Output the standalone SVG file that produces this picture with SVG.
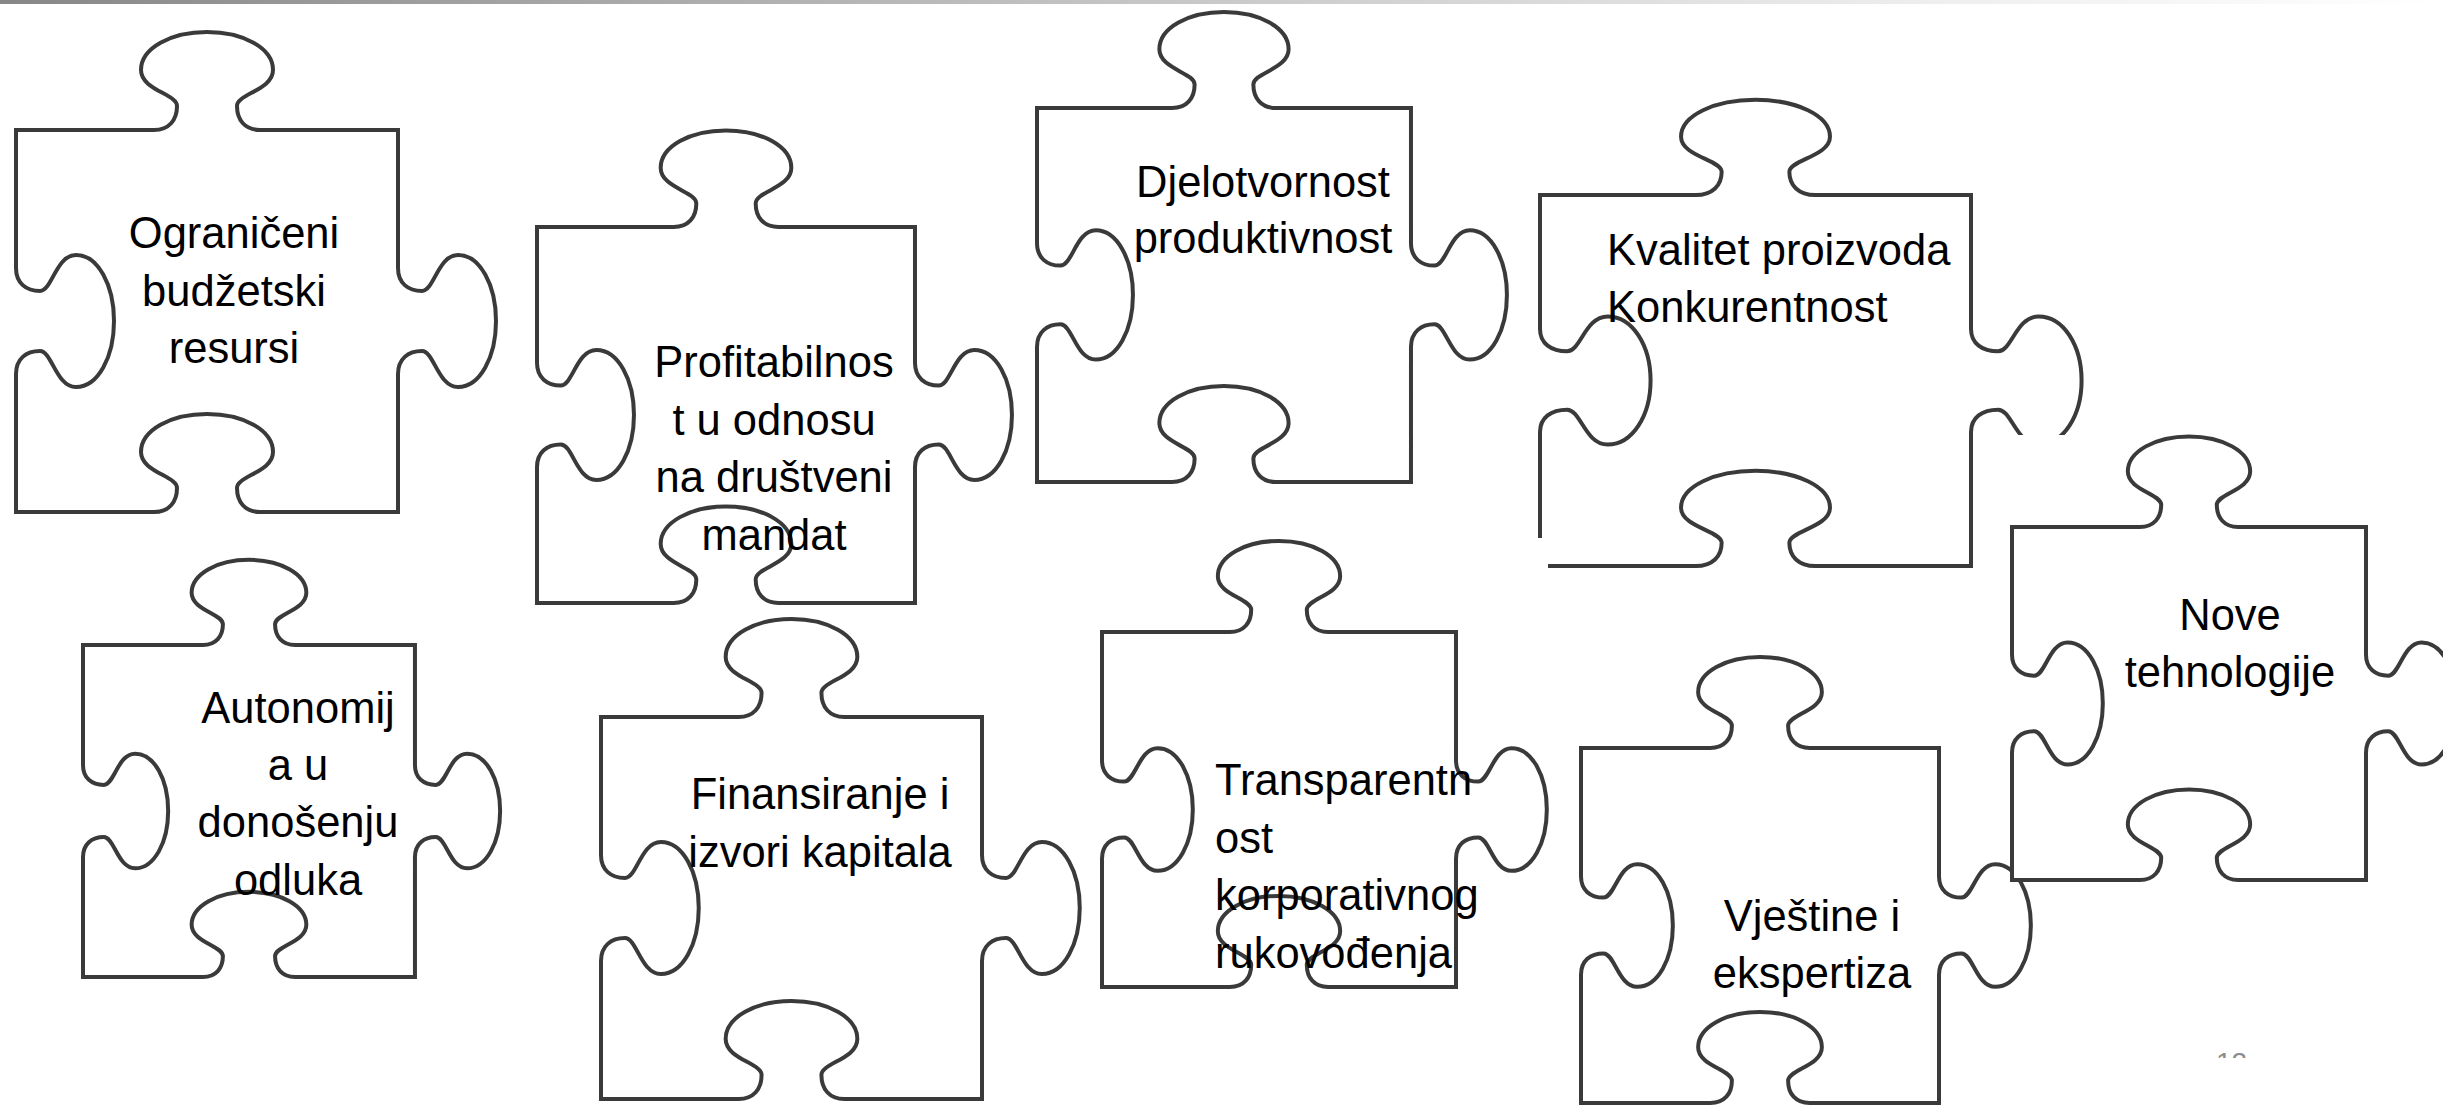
<svg xmlns="http://www.w3.org/2000/svg" xmlns:xlink="http://www.w3.org/1999/xlink" width="2443" height="1106" viewBox="0 0 2443 1106">
<style>
.pc{fill:#fff;stroke:#3a3a3a;stroke-width:4;vector-effect:non-scaling-stroke;stroke-linejoin:miter}
.bg{fill:#fff;stroke:none}
.t{font-family:"Liberation Sans",Arial,sans-serif;font-size:43.5px;fill:#000}
.m{text-anchor:middle}
.pn{font-family:"Liberation Sans",Arial,sans-serif;font-size:28px;fill:#8c8c8c}
</style>
<defs>
<linearGradient id="bar" x1="0" y1="0" x2="1" y2="0">
<stop offset="0" stop-color="#878787"/>
<stop offset="0.45" stop-color="#c3c3c3"/>
<stop offset="0.8" stop-color="#efefef"/>
<stop offset="1" stop-color="#ffffff"/>
</linearGradient>
<clipPath id="pnclip"><rect x="2150" y="1000" width="200" height="58"/></clipPath>
<path id="piece" class="pc" d="M0,0 L138,0 C153,0 161,-10 161,-24 C161,-36 125,-40 125,-60 C125,-82 155,-98 191,-98 C227,-98 257,-82 257,-60 C257,-40 221,-36 221,-24 C221,-10 229,0 244,0 L382,0 L382,138 C382,153 392,161 406,161 C418,161 422,125 442,125 C464,125 480,155 480,191 C480,227 464,257 442,257 C422,257 418,221 406,221 C392,221 382,229 382,244 L382,382 L244,382 C229,382 221,372 221,358 C221,346 257,342 257,322 C257,300 227,284 191,284 C155,284 125,300 125,322 C125,342 161,346 161,358 C161,372 153,382 138,382 L0,382 L0,244 C0,229 10,221 24,221 C36,221 40,257 60,257 C82,257 98,227 98,191 C98,155 82,125 60,125 C40,125 36,161 24,161 C10,161 0,153 0,138 Z"/>
</defs>
<rect x="0" y="0" width="2443" height="1106" fill="#fff"/>
<rect x="0" y="0" width="2443" height="4" fill="url(#bar)"/>
<g id="connectors"></g>
<g id="n1">
<use xlink:href="#piece" href="#piece" transform="translate(16,130) scale(1,1)"/>
<text class="t m" x="234" y="248">Ograničeni</text>
<text class="t m" x="234" y="306">budžetski</text>
<text class="t m" x="234" y="363">resursi</text>
</g>
<g id="n2">
<use xlink:href="#piece" href="#piece" transform="translate(537,227) scale(0.9895,0.9843)"/>
<text class="t m" x="774" y="377">Profitabilnos</text>
<text class="t m" x="774" y="435">t u odnosu</text>
<text class="t m" x="774" y="492">na društveni</text>
<text class="t m" x="774" y="550">mandat</text>
</g>
<g id="n3">
<use xlink:href="#piece" href="#piece" transform="translate(1037,108) scale(0.979,0.979)"/>
<text class="t m" x="1263" y="197">Djelotvornost</text>
<text class="t m" x="1263" y="253">produktivnost</text>
</g>
<g id="n6">
<use xlink:href="#piece" href="#piece" transform="translate(83,645) scale(0.869,0.869)"/>
<text class="t m" x="298" y="723">Autonomij</text>
<text class="t m" x="298" y="780">a u</text>
<text class="t m" x="298" y="837">donošenju</text>
<text class="t m" x="298" y="895">odluka</text>
</g>
<g id="n7">
<use xlink:href="#piece" href="#piece" transform="translate(601,717) scale(0.9974,1)"/>
<text class="t m" x="820" y="809">Finansiranje i</text>
<text class="t m" x="820" y="867">izvori kapitala</text>
</g>
<g id="n4">
<use xlink:href="#piece" href="#piece" transform="translate(1540,195) scale(1.1283,0.9712)"/>
<text class="t" x="1607" y="265">Kvalitet proizvoda</text>
<text class="t" x="1607" y="322">Konkurentnost</text>
</g>
<g id="n9">
<use xlink:href="#piece" href="#piece" transform="translate(1581,748) scale(0.9372,0.9293)"/>
<text class="t m" x="1812" y="931">Vještine i</text>
<text class="t m" x="1812" y="988">ekspertiza</text>
</g>
<g id="n8">
<rect class="bg" x="1102" y="538" width="446" height="450"/>
<use xlink:href="#piece" href="#piece" transform="translate(1102,632) scale(0.9267,0.9293)"/>
<text class="t" x="1215" y="795">Transparentn</text>
<text class="t" x="1215" y="853">ost</text>
<text class="t" x="1215" y="910">korporativnog</text>
<text class="t" x="1215" y="968">rukovođenja</text>
</g>
<g id="n5">
<rect class="bg" x="2012" y="435" width="431" height="446"/>
<use xlink:href="#piece" href="#piece" transform="translate(2012,527) scale(0.9267,0.9241)"/>
<text class="t m" x="2230" y="630">Nove</text>
<text class="t m" x="2230" y="687">tehnologije</text>
</g>
<g id="pagenum" clip-path="url(#pnclip)">
<text class="pn" x="2216" y="1072">12</text>
</g>
</svg>
